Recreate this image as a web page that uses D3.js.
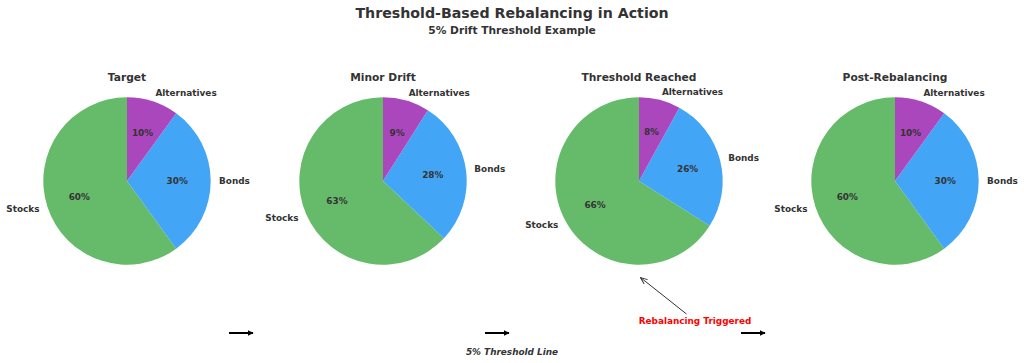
<!DOCTYPE html>
<html>
<head>
<meta charset="utf-8">
<script src="https://cdn.jsdelivr.net/npm/d3@7"></script>
<style>
  body { margin: 0; background: #fff; }
  svg { display: block; font-family: "DejaVu Sans", sans-serif; }
</style>
</head>
<body>
<div class="chart"></div>
<script>
// data
const panels = ["Target", "Minor Drift", "Threshold Reached", "Post-Rebalancing"];
const assets = ["Stocks", "Bonds", "Alternatives"];
const stocks = [60, 63, 66, 60];
const bonds = [30, 28, 26, 30];
const alternatives = [10, 9, 8, 10];
const colors = ["#66BB6A", "#42A5F5", "#AB47BC"];

const width = 1024, height = 363;
const radius = 83.7;
const cy = 181;
const textColor = "#333333";

const svg = d3.select(".chart").append("svg")
  .attr("width", width)
  .attr("height", height);

// arrowhead markers
const defs = svg.append("defs");
defs.append("marker")
  .attr("id", "head")
  .attr("viewBox", "0 0 10 10")
  .attr("refX", 9)
  .attr("refY", 5)
  .attr("markerWidth", 3)
  .attr("markerHeight", 3)
  .attr("orient", "auto")
  .append("path")
  .attr("d", "M0,0 L10,5 L0,10 Z")
  .attr("fill", "#000");

defs.append("marker")
  .attr("id", "open")
  .attr("viewBox", "0 0 10 10")
  .attr("refX", 9.5)
  .attr("refY", 5)
  .attr("markerWidth", 7)
  .attr("markerHeight", 7)
  .attr("markerUnits", "userSpaceOnUse")
  .attr("orient", "auto")
  .append("path")
  .attr("d", "M0,1 L10,5 L0,9")
  .attr("fill", "none")
  .attr("stroke", "#333")
  .attr("stroke-width", 1.4);

// titles
svg.append("text")
  .text("Threshold-Based Rebalancing in Action")
  .attr("x", width / 2)
  .attr("y", 13)
  .attr("text-anchor", "middle")
  .attr("dominant-baseline", "central")
  .attr("font-size", 14.2)
  .attr("font-weight", "bold")
  .attr("fill", textColor);

svg.append("text")
  .text("5% Drift Threshold Example")
  .attr("x", width / 2)
  .attr("y", 30.5)
  .attr("text-anchor", "middle")
  .attr("dominant-baseline", "central")
  .attr("font-size", 10.67)
  .attr("font-weight", "bold")
  .attr("fill", textColor);

const x = d3.scaleBand()
  .domain(panels)
  .range([-1, width - 1]);

const pie = d3.pie()
  .sort(null)
  .startAngle(0)
  .endAngle(-2 * Math.PI)
  .value(d => d.value);

const arc = d3.arc().innerRadius(0).outerRadius(radius);

panels.forEach((name, i) => {
  const cx = x(name) + x.bandwidth() / 2;
  const rows = [
    { asset: assets[0], value: stocks[i] },
    { asset: assets[1], value: bonds[i] },
    { asset: assets[2], value: alternatives[i] }
  ];
  const total = d3.sum(rows, d => d.value);
  const g = svg.append("g").attr("transform", `translate(${cx},${cy})`);

  g.append("text")
    .text(name)
    .attr("x", 0)
    .attr("y", -104)
    .attr("text-anchor", "middle")
    .attr("dominant-baseline", "central")
    .attr("font-size", 10.67)
    .attr("font-weight", "bold")
    .attr("fill", textColor);

  const slices = pie(rows);

  g.selectAll("path.slice")
    .data(slices)
    .join("path")
    .attr("class", "slice")
    .attr("d", arc)
    .attr("fill", (d, j) => colors[j]);

  // category labels
  g.selectAll("text.label")
    .data(slices)
    .join("text")
    .attr("class", "label")
    .each(function (d) {
      const mid = (d.startAngle + d.endAngle) / 2;
      const lx = Math.sin(mid) * radius * 1.1;
      const ly = -Math.cos(mid) * radius * 1.1;
      d3.select(this)
        .attr("x", lx)
        .attr("y", ly)
        .attr("text-anchor", lx > 0 ? "start" : "end");
    })
    .attr("dominant-baseline", "central")
    .attr("font-size", 8.9)
    .attr("font-weight", "bold")
    .attr("fill", textColor)
    .text(d => d.data.asset);

  // percentages
  g.selectAll("text.pct")
    .data(slices)
    .join("text")
    .attr("class", "pct")
    .attr("x", d => Math.sin((d.startAngle + d.endAngle) / 2) * radius * 0.6)
    .attr("y", d => -Math.cos((d.startAngle + d.endAngle) / 2) * radius * 0.6)
    .attr("text-anchor", "middle")
    .attr("dominant-baseline", "central")
    .attr("font-size", 8.9)
    .attr("font-weight", "bold")
    .attr("fill", textColor)
    .text(d => Math.round(d.data.value / total * 100) + "%");

  // flow arrow to next panel
  if (i < panels.length - 1) {
    svg.append("line")
      .attr("x1", cx + 102)
      .attr("x2", cx + 126)
      .attr("y1", 333)
      .attr("y2", 333)
      .attr("stroke", "#000")
      .attr("stroke-width", 2)
      .attr("marker-end", "url(#head)");
  }
});

// threshold annotation
const c3 = x(panels[2]) + x.bandwidth() / 2;
svg.append("line")
  .attr("x1", c3 + 47.5)
  .attr("y1", 314)
  .attr("x2", c3 + 1.7)
  .attr("y2", 277.7)
  .attr("stroke", "#333")
  .attr("stroke-width", 1)
  .attr("marker-end", "url(#open)");

svg.append("text")
  .text("Rebalancing Triggered")
  .attr("x", c3 + 56)
  .attr("y", 321)
  .attr("text-anchor", "middle")
  .attr("dominant-baseline", "central")
  .attr("font-size", 8.9)
  .attr("font-weight", "bold")
  .attr("fill", "#FF0000");

svg.append("text")
  .text("5% Threshold Line")
  .attr("x", width / 2)
  .attr("y", 352)
  .attr("text-anchor", "middle")
  .attr("dominant-baseline", "central")
  .attr("font-size", 8.9)
  .attr("font-weight", "bold")
  .attr("font-style", "italic")
  .attr("fill", textColor);
</script>
</body>
</html>
